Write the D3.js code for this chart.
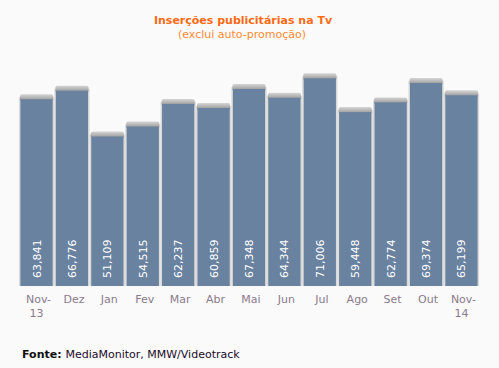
<!DOCTYPE html>
<html>
<head>
<meta charset="utf-8">
<script src="https://cdn.jsdelivr.net/npm/d3@7"></script>
<style>
  body { margin: 0; background: #fafafa; }
  svg { display: block; font-family: "DejaVu Sans", Verdana, sans-serif; }
</style>
</head>
<body>
<div id="chart"></div>
<script>
// data
var months = ["Nov-|13", "Dez", "Jan", "Fev", "Mar", "Abr", "Mai", "Jun", "Jul", "Ago", "Set", "Out", "Nov-|14"];
var insercoes = [63841, 66776, 51109, 54515, 62237, 60859, 67348, 64344, 71006, 59448, 62774, 69374, 65199];
var title = "Inserções publicitárias na Tv";
var subtitle = "(exclui auto-promoção)";

var W = 499, H = 368;
var margin = {top: 50, right: 20, bottom: 82, left: 19};

var svg = d3.select("#chart").append("svg")
    .attr("width", W).attr("height", H);

svg.append("rect").attr("width", W).attr("height", H).attr("fill", "#fafafa");

var x = d3.scaleBand()
    .domain(d3.range(months.length))
    .range([margin.left, W - margin.right])
    .paddingInner(0.09).paddingOuter(0.04);

var y = d3.scaleLinear()
    .domain([0, 80000])
    .range([H - margin.bottom, H - margin.bottom - 234]);

var defs = svg.append("defs");
var cap = defs.append("linearGradient").attr("id", "cap")
    .attr("x1", 0).attr("y1", 0).attr("x2", 0).attr("y2", 1);
cap.append("stop").attr("offset", "0%").attr("stop-color", "#d6d6d6");
cap.append("stop").attr("offset", "100%").attr("stop-color", "#8e8e8e");

var g = svg.append("g");
var bars = g.selectAll("g.bar").data(insercoes).enter().append("g").attr("class", "bar");

// soft side shadow
bars.append("rect")
    .attr("x", function (d, i) { return x(i) - 1.5; })
    .attr("y", function (d) { return y(d) - 2; })
    .attr("width", x.bandwidth() + 3)
    .attr("height", function (d) { return y(0) - y(d) + 2; })
    .attr("fill", "#d9d9d9");

// grey cap on top
bars.append("rect")
    .attr("x", function (d, i) { return x(i) - 0.5; })
    .attr("y", function (d) { return y(d) - 5; })
    .attr("rx", 2)
    .attr("width", x.bandwidth() + 1)
    .attr("height", 7)
    .attr("fill", "url(#cap)");

bars.append("rect")
    .attr("x", function (d, i) { return x(i); })
    .attr("y", function (d) { return y(d); })
    .attr("width", x.bandwidth())
    .attr("height", function (d) { return y(0) - y(d); })
    .attr("fill", "#69829f");

var fmt = d3.format(",");
bars.append("text")
    .attr("transform", function (d, i) {
        return "translate(" + (x(i) + x.bandwidth() / 2 + 4) + "," + (y(0) - 8) + ")rotate(-90)";
    })
    .attr("fill", "#ffffff")
    .attr("font-size", "11px")
    .text(function (d) { return fmt(d); });

// month labels
var lab = g.selectAll("text.month").data(months).enter().append("text")
    .attr("class", "month")
    .attr("text-anchor", "middle")
    .attr("fill", "#8a7a8c")
    .attr("font-size", "11px")
    .attr("y", y(0) + 17);
lab.each(function (d, i) {
    var t = d3.select(this);
    d.split("|").forEach(function (s, k) {
        t.append("tspan")
            .attr("x", x(i) + x.bandwidth() / 2 + (k ? 0 : 2))
            .attr("dy", k ? 14 : 0)
            .text(s);
    });
});

svg.append("text")
    .attr("x", 243).attr("y", 24)
    .attr("text-anchor", "middle")
    .attr("fill", "#ff6a13")
    .attr("font-size", "11px")
    .attr("font-weight", "bold")
    .text(title);
svg.append("text")
    .attr("x", 242).attr("y", 38)
    .attr("text-anchor", "middle")
    .attr("fill", "#ff8a33")
    .attr("font-size", "11px")
    .text(subtitle);

var src = svg.append("text").attr("x", 22).attr("y", 358)
    .attr("font-size", "11px").attr("fill", "#111");
src.append("tspan").attr("font-weight", "bold").text("Fonte: ");
src.append("tspan").attr("fill", "#1a0a2a").text("MediaMonitor, MMW/Videotrack");
</script>
</body>
</html>
